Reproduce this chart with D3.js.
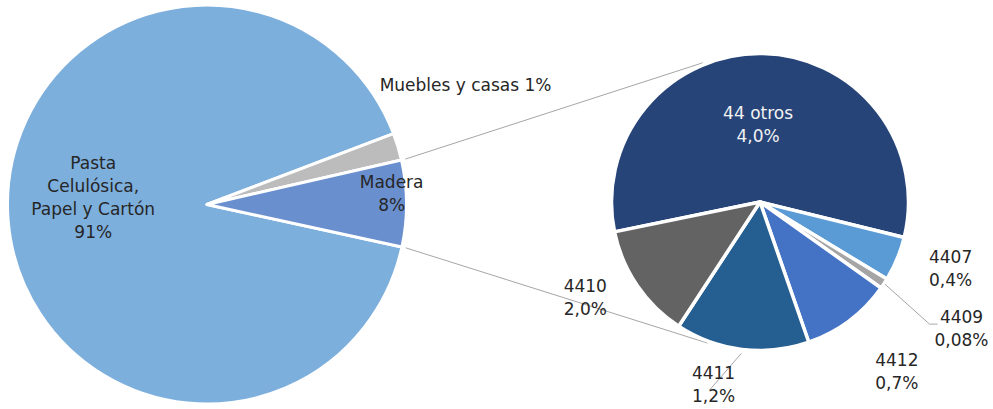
<!DOCTYPE html>
<html>
<head>
<meta charset="utf-8">
<script src="https://cdn.jsdelivr.net/npm/d3@7"></script>
<style>
  html, body { margin: 0; padding: 0; background: #fff; }
  svg text { font-family: "Century Gothic", "DejaVu Sans", sans-serif; font-size: 17px; fill: #262626; }
</style>
</head>
<body>
<div id="chart"></div>
<script>
// main pie
const mainNames = ["Pasta\nCelulósica,\nPapel y Cartón", "Muebles y casas", "Madera"];
const mainValues = [90.8, 2.2, 7.0];
const mainLabels = ["91%", "1%", "8%"];
const mainColors = ["#7dafdd", "#bcbcbc", "#6a8fcf"];

// second pie: breakdown of Madera
const subNames = ["44 otros", "4407", "4409", "4412", "4411", "4410"];
const subValues = [4.0, 0.34, 0.08, 0.69, 1.02, 0.88];
const subLabels = ["4,0%", "0,4%", "0,08%", "0,7%", "1,2%", "2,0%"];
const subColors = ["#264478", "#5b9bd5", "#a5a5a5", "#4472c4", "#255e91", "#636363"];

const width = 993;
const height = 409;
const rad = d => d * Math.PI / 180;

const svg = d3.select("#chart")
    .append("svg")
    .attr("width", width)
    .attr("height", height);

const main = { cx: 207, cy: 204.5, r: 199.5, start: 102.3 };
const sub = { cx: 760, cy: 202, r: 148.5, start: 258.4 };

// label placement: radius from centre + angle offset from slice middle (degrees)
const mainLabelPos = [{ r: 114, da: 7.8 }, { r: 285, da: -8 }, { r: 185, da: -3.2 }];
const subLabelPos = [
    { r: 78, da: -2.5 }, { r: 202, da: -3.2 }, { r: 238, da: -1.2 },
    { r: 218, da: -2 }, { r: 188, da: 7.3 }, { r: 199, da: 5.6 }
];

function polar(c, r, a) {
    return [c.cx + r * Math.sin(a), c.cy - r * Math.cos(a)];
}

function makePie(start) {
    return d3.pie().sort(null).value(d => d)
        .startAngle(rad(start)).endAngle(rad(start) + 2 * Math.PI);
}

const mainArcs = makePie(main.start)(mainValues);
const subArcs = makePie(sub.start)(subValues);

// connector lines between the Madera slice and the second pie
const madera = mainArcs[2];
const connectors = [
    [polar(main, main.r + 4, madera.startAngle), polar(sub, sub.r + 2, rad(-22.3))],
    [polar(main, main.r + 4, madera.endAngle), polar(sub, sub.r + 2, rad(200.3))]
];
svg.selectAll(".connector")
    .data(connectors)
    .join("line")
    .attr("class", "connector")
    .attr("x1", d => d[0][0]).attr("y1", d => d[0][1])
    .attr("x2", d => d[1][0]).attr("y2", d => d[1][1])
    .attr("stroke", "#a6a6a6")
    .attr("stroke-width", 1);

const mainArc = d3.arc().innerRadius(0).outerRadius(main.r);
svg.append("g")
    .attr("transform", `translate(${main.cx},${main.cy})`)
    .selectAll("path")
    .data(mainArcs)
    .join("path")
    .attr("d", mainArc)
    .attr("fill", (d, i) => mainColors[i])
    .attr("stroke", "#fff")
    .attr("stroke-width", 3)
    .attr("stroke-linejoin", "round");

const subArc = d3.arc().innerRadius(0).outerRadius(sub.r);
svg.append("g")
    .attr("transform", `translate(${sub.cx},${sub.cy})`)
    .selectAll("path")
    .data(subArcs)
    .join("path")
    .attr("d", subArc)
    .attr("fill", (d, i) => subColors[i])
    .attr("stroke", "#fff")
    .attr("stroke-width", 3.5)
    .attr("stroke-linejoin", "round");

function labelPoint(c, d, pos) {
    const mid = (d.startAngle + d.endAngle) / 2 + rad(pos.da);
    return polar(c, pos.r, mid);
}

const lineH = 23;
function drawLabel(p, lines, color) {
    const t = svg.append("text")
        .attr("text-anchor", "middle")
        .style("fill", color || null);
    lines.forEach((s, i) => {
        t.append("tspan")
            .attr("x", p[0])
            .attr("y", p[1] + (i - (lines.length - 1) / 2) * lineH)
            .attr("dominant-baseline", "central")
            .text(s);
    });
}

// main pie labels
mainArcs.forEach((d, i) => {
    const p = labelPoint(main, d, mainLabelPos[i]);
    const lines = i === 1 ? [mainNames[i] + " " + mainLabels[i]]
        : mainNames[i].split("\n").concat([mainLabels[i]]);
    drawLabel(p, lines);
});

// second pie labels and leaders
const subPts = subArcs.map((d, i) => labelPoint(sub, d, subLabelPos[i]));

// leader for 4409 (elbow)
const a4409 = subArcs[2];
const p4409 = subPts[2];
svg.append("polyline")
    .attr("points", [
        polar(sub, sub.r + 1, (a4409.startAngle + a4409.endAngle) / 2),
        [p4409[0] - 32, p4409[1] - 4.5],
        [p4409[0] - 24, p4409[1] - 4.5]
    ].map(q => q.join(",")).join(" "))
    .attr("fill", "none")
    .attr("stroke", "#a6a6a6")
    .attr("stroke-width", 1);

// leader for 4411
const a4411 = subArcs[4];
const p4411 = subPts[4];
const s4411 = polar(sub, sub.r + 4, (a4411.startAngle + a4411.endAngle) / 2);
svg.append("line")
    .attr("x1", s4411[0]).attr("y1", s4411[1])
    .attr("x2", p4411[0] - 4).attr("y2", p4411[1] + 6)
    .attr("stroke", "#a6a6a6")
    .attr("stroke-width", 1);

subArcs.forEach((d, i) => {
    drawLabel(subPts[i], [subNames[i], subLabels[i]], i === 0 ? "#f2f2f2" : null);
});
</script>
</body>
</html>
